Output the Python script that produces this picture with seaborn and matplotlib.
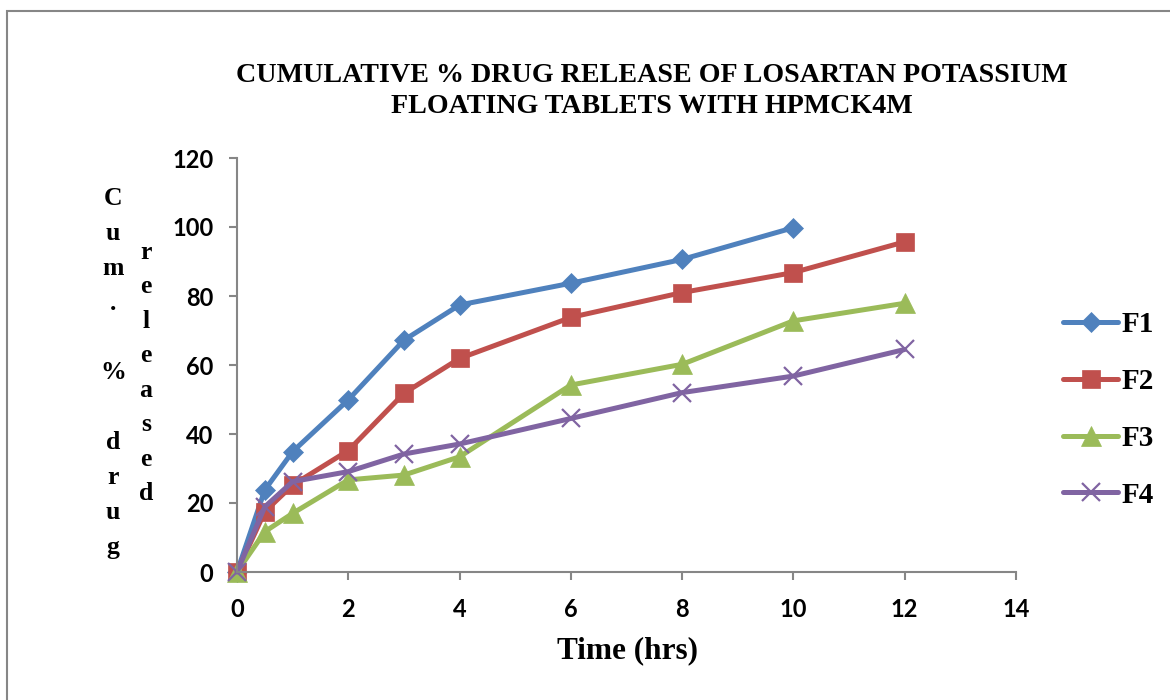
import numpy as np
import pandas as pd
import seaborn as sns
import matplotlib
matplotlib.use("Agg")
import matplotlib.pyplot as plt
from matplotlib.patches import Rectangle

# ---- data ----
time_f1 = [0, 0.5, 1, 2, 3, 4, 6, 8, 10]
time_all = [0, 0.5, 1, 2, 3, 4, 6, 8, 10, 12]
f1 = [0, 23.8, 34.9, 49.9, 67.2, 77.4, 83.7, 90.6, 99.8]
f2 = [0, 17.5, 25.2, 35.2, 51.8, 61.9, 73.8, 81.0, 86.8, 95.7]
f3 = [0, 11.7, 17.0, 26.7, 28.1, 33.4, 54.2, 60.2, 72.8, 77.9]
f4 = [0, 18.9, 26.2, 29.1, 34.2, 37.1, 44.5, 52.0, 56.8, 64.5]
series_names = ["F1", "F2", "F3", "F4"]
x_ticks = [0, 2, 4, 6, 8, 10, 12, 14]
y_ticks = [0, 20, 40, 60, 80, 100, 120]

title_text = "CUMULATIVE % DRUG RELEASE OF LOSARTAN POTASSIUM\nFLOATING TABLETS WITH HPMCK4M"
xlabel_text = "Time (hrs)"
ylabel_col1 = "C\nu\nm\n.\n \n%\n \nd\nr\nu\ng"
ylabel_col2 = "r\ne\nl\ne\na\ns\ne\nd"

colors = ["#4F81BD", "#C0504D", "#9BBB59", "#8064A2"]
markers = ["D", "s", "^", "x"]
msizes = [10, 13, 14, 13]

sns.set_theme(style="white")
plt.rcParams["font.family"] = ["Liberation Serif", "DejaVu Sans"]
plt.rcParams["text.color"] = "black"
plt.rcParams["xtick.color"] = "black"
plt.rcParams["ytick.color"] = "black"

W, H = 1170, 700
fig = plt.figure(figsize=(W / 100, H / 100), dpi=100)
fig.patch.set_facecolor("white")

ax = fig.add_axes([237 / W, 1 - 572 / H, (1016 - 237) / W, (572 - 158) / H])

frames = []
for name, t, v in zip(series_names, [time_f1, time_all, time_all, time_all], [f1, f2, f3, f4]):
    frames.append(pd.DataFrame({"Time": t, "Release": v, "Formulation": name}))
df = pd.concat(frames, ignore_index=True)

for name, c, m, ms in zip(series_names, colors, markers, msizes):
    sub = df[df["Formulation"] == name]
    sns.lineplot(data=sub, x="Time", y="Release", ax=ax, color=c, marker=m,
                 markersize=ms, markeredgecolor=c, markerfacecolor=c,
                 markeredgewidth=1.6 if m == "x" else 0.5,
                 linewidth=3.6, label=name, clip_on=False, estimator=None,
                 sort=False)

ax.set_xlim(0, 14)
ax.set_ylim(0, 120)
ax.set_xticks(x_ticks)
ax.set_yticks(y_ticks)
ax.set_xlabel("")
ax.set_ylabel("")
for s in ["top", "right"]:
    ax.spines[s].set_visible(False)
for s in ["left", "bottom"]:
    ax.spines[s].set_color("#868686")
    ax.spines[s].set_linewidth(1.5)
ax.tick_params(axis="both", which="both", direction="out", length=6, width=1.5,
               color="#868686", labelcolor="black", left=True, bottom=True)
ax.tick_params(axis="y", pad=11)
ax.tick_params(axis="x", pad=13)
for lab in ax.get_xticklabels() + ax.get_yticklabels():
    lab.set_fontfamily("Lato")
    lab.set_fontweight("bold")
    lab.set_fontsize(17)
    lab.set_color("black")

# legend
leg = ax.legend(loc="center left", bbox_to_anchor=(1063 / W, 1 - 410 / H),
                bbox_transform=fig.transFigure, frameon=False,
                prop={"family": "Liberation Serif", "weight": "bold", "size": 21},
                handlelength=1.9, handletextpad=0.12, labelspacing=1.02,
                borderpad=0, borderaxespad=0)
for t in leg.get_texts():
    t.set_color("black")

# title
fig.text(652 / W, 1 - 112.7 / H, title_text, ha="center", va="baseline",
         fontsize=20.2, fontweight="bold", family="Liberation Serif",
         color="black", linespacing=1.3, multialignment="center")

# x label
fig.text(627.5 / W, 1 - 658 / H, xlabel_text, ha="center", va="baseline",
         fontsize=22.5, fontweight="bold", family="Liberation Serif", color="black")

# y label (stacked letters, two columns)
fig.text(113 / W, 1 - 373 / H, ylabel_col1, ha="center", va="center",
         fontsize=18.5, fontweight="bold", family="Liberation Serif",
         color="black", linespacing=1.66, multialignment="center")
fig.text(146 / W, 1 - 373 / H, ylabel_col2, ha="center", va="center",
         fontsize=18.5, fontweight="bold", family="Liberation Serif",
         color="black", linespacing=1.64, multialignment="center")

# outer chart border
fig.patches.append(Rectangle((6.5 / W, -0.05), 1.2, 1 - 11 / H + 0.05,
                             transform=fig.transFigure, fill=False,
                             edgecolor="#868686", linewidth=1.5))

fig.savefig("out.png", dpi=100, facecolor="white")
